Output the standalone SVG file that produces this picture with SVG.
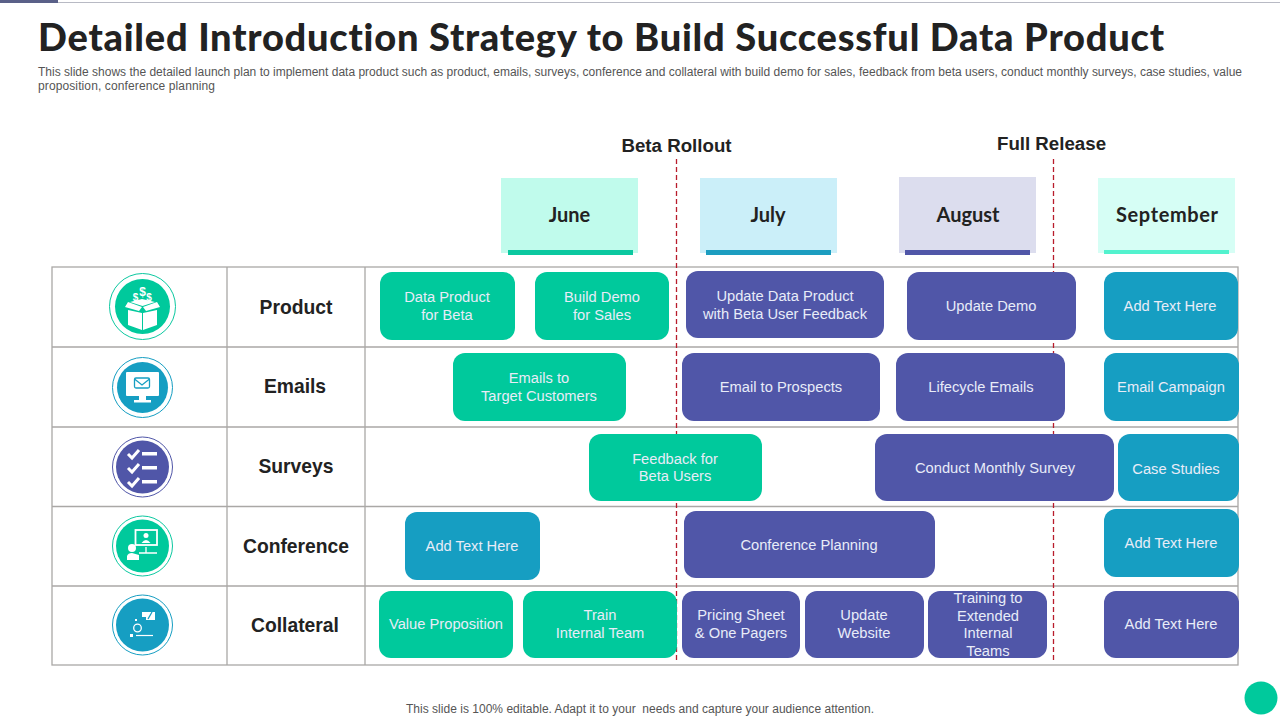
<svg xmlns="http://www.w3.org/2000/svg" width="1280" height="720" viewBox="0 0 1280 720">
<style>
text{font-family:"Liberation Sans",Arial,sans-serif;font-variant-ligatures:none}
.title{font-family:"Lato","Liberation Sans",sans-serif;font-size:38px;font-weight:900;fill:#222}
.sub{font-size:12px;fill:#555}
.mile{font-size:18.700px;font-weight:700;fill:#222;text-anchor:middle}
.month{font-family:"Lato","Liberation Sans",sans-serif;font-size:20px;font-weight:700;fill:#222;text-anchor:middle}
.row{font-size:19.300px;font-weight:700;fill:#222;text-anchor:middle}
.b{font-size:14.700px;fill:#e8ecf8;text-anchor:middle}
.g{fill:#00C99C}.p{fill:#5056A8}.t{fill:#169EC2}
.grid{stroke:#aaa8a6;stroke-width:1.300;fill:none}
.dash{stroke:#B81C2C;stroke-width:1.300;stroke-dasharray:5 3;fill:none}
.w{fill:#fff}.ws{stroke:#fff;fill:none;stroke-width:3}
</style>
<g id="top-rule"><rect x="0" y="2" width="1280" height="1" fill="#b8bac4"/><rect x="0" y="0" width="58" height="3" fill="#5a6088"/></g>
<text class="title" x="38" y="51" textLength="1126" lengthAdjust="spacing">Detailed Introduction Strategy to Build Successful Data Product</text>
<text class="sub" x="38" y="76" textLength="1204" lengthAdjust="spacing">This slide shows the detailed launch plan to implement data product such as product, emails, surveys, conference and collateral with build demo for sales, feedback from beta users, conduct monthly surveys, case studies, value</text>
<text class="sub" x="38" y="90" textLength="177" lengthAdjust="spacing">proposition, conference planning</text>
<g id="table" class="grid">
<rect x="52" y="267" width="1186" height="398"/>
<path d="M52 347H1238M52 427H1238M52 506.500H1238M52 586H1238M227 267V665M365 267V665"/>
</g>
<g id="connectors">
<path class="dash" d="M676.500 159V662"/>
<path class="dash" d="M1053.500 159V662"/>
</g>
<text class="mile" x="676.500" y="152">Beta Rollout</text>
<text class="mile" x="1051.500" y="150">Full Release</text>
<g id="month-june"><rect x="501" y="178" width="137" height="75" fill="#C0FBEC"/><rect x="508" y="250" width="125" height="5" fill="#0BC8A0"/><text class="month" x="569.500" y="222">June</text></g>
<g id="month-july"><rect x="700" y="178" width="137" height="75" fill="#CBEFF9"/><rect x="706" y="250" width="125" height="5" fill="#1C9DC0"/><text class="month" x="768" y="222">July</text></g>
<g id="month-august"><rect x="899" y="177" width="137" height="76" fill="#DCDDEE"/><rect x="905" y="250" width="125" height="5" fill="#5056A8"/><text class="month" x="968" y="222">August</text></g>
<g id="month-september"><rect x="1098" y="178" width="137" height="75" fill="#D6FEF5"/><rect x="1104" y="250" width="125" height="4" fill="#52F2CE"/><text class="month" x="1167" y="222" textLength="102" lengthAdjust="spacing">September</text></g>
<text class="row" x="296" y="314">Product</text>
<text class="row" x="295" y="393">Emails</text>
<text class="row" x="296" y="473">Surveys</text>
<text class="row" x="296" y="553">Conference</text>
<text class="row" x="295" y="632">Collateral</text>
<g id="icon-product">
<circle cx="142.500" cy="306.500" r="33" fill="#fff" stroke="#0BC8A0"/><circle cx="142.500" cy="306.500" r="27.500" class="g"/>
<path class="w" d="M128 310L142 313V330L128 325ZM157 310L143 313V330L157 325ZM128 302L125 307L139 311L142 307ZM157 302L160 307L146 311L143 307ZM130 302L142 299L155 302L142.500 306Z"/>
<text x="142.500" y="295.500" font-size="12" font-weight="700" fill="#fff" text-anchor="middle">$</text><text x="135.500" y="301" font-size="10" font-weight="700" fill="#fff" text-anchor="middle">$</text><text x="149" y="301" font-size="10" font-weight="700" fill="#fff" text-anchor="middle">$</text>
</g>
<g id="icon-emails">
<circle cx="142.500" cy="387.500" r="30" fill="#fff" stroke="#169EC2"/><circle cx="142.500" cy="387.500" r="25.500" class="t"/>
<rect x="126" y="372" width="33" height="24" rx="1" class="w"/><rect x="139" y="396" width="7" height="5" class="w"/><rect x="134" y="400" width="17" height="2.500" class="w"/>
<rect x="134.500" y="378" width="15" height="10" rx="1.500" fill="none" stroke="#169EC2" stroke-width="1.300"/><path d="M134.500 379L142 385L149.500 379" fill="none" stroke="#169EC2" stroke-width="1.300"/>
</g>
<g id="icon-surveys">
<circle cx="142.500" cy="467" r="30" fill="#fff" stroke="#5056A8"/><circle cx="142.500" cy="467" r="26.500" class="p"/>
<path class="ws" d="M128 454L132 458L139 450M128 468L132 472L139 464M128 482L132 486L139 478"/>
<rect x="142" y="452" width="15" height="3.500" class="w"/><rect x="142" y="466" width="15" height="3.500" class="w"/><rect x="142" y="480" width="15" height="3.500" class="w"/>
</g>
<g id="icon-conference">
<circle cx="142.500" cy="546" r="30" fill="#fff" stroke="#0BC8A0"/><circle cx="142.500" cy="546" r="26.500" class="g"/>
<rect x="135.500" y="530" width="21.500" height="15" fill="none" stroke="#fff" stroke-width="1.800"/><circle cx="146" cy="535.500" r="2.500" class="w"/><path class="w" d="M141.500 543Q146 537 150.500 543Z"/>
<path d="M139 553H157M146 547V553" stroke="#fff" stroke-width="1.300" fill="none"/><circle cx="132" cy="548" r="4" class="w"/><path class="w" d="M127 560V556Q128 553 132 553L139 555V560Z"/>
</g>
<g id="icon-collateral">
<circle cx="142.500" cy="625" r="30" fill="#fff" stroke="#169EC2"/><circle cx="142.500" cy="625" r="26.500" class="t"/>
<path class="w" d="M142 612H155V620H146V617H142Z"/><path d="M148 619L152 612" stroke="#169EC2" stroke-width="1.300"/>
<circle cx="137.500" cy="628" r="3.800" fill="none" stroke="#fff" stroke-width="1.300"/><rect x="135" y="619" width="2" height="2" class="w"/><rect x="130" y="634" width="3" height="3" class="w"/><path d="M136 635.500H153" stroke="#fff" stroke-width="1.200"/>
</g>
<g id="boxes">
<g id="n1"><rect class="g" x="380" y="272" width="135" height="68" rx="12"/><text class="b" x="447" y="302">Data Product</text><text class="b" x="447" y="320">for Beta</text></g>
<g id="n2"><rect class="g" x="535" y="272" width="134" height="68" rx="12"/><text class="b" x="602" y="302">Build Demo</text><text class="b" x="602" y="320">for Sales</text></g>
<g id="n3"><rect class="p" x="686" y="271" width="198" height="67" rx="12"/><text class="b" x="785" y="301">Update Data Product</text><text class="b" x="785" y="319">with Beta User Feedback</text></g>
<g id="n4"><rect class="p" x="907" y="272" width="169" height="68" rx="12"/><text class="b" x="991" y="311">Update Demo</text></g>
<g id="n5"><rect class="t" x="1104" y="272" width="134" height="68" rx="12"/><text class="b" x="1170" y="311">Add Text Here</text></g>
<g id="n6"><rect class="g" x="453" y="353" width="173" height="68" rx="12"/><text class="b" x="539" y="383">Emails to</text><text class="b" x="539" y="401">Target Customers</text></g>
<g id="n7"><rect class="p" x="682" y="353" width="198" height="68" rx="12"/><text class="b" x="781" y="392">Email to Prospects</text></g>
<g id="n8"><rect class="p" x="896" y="353" width="169" height="68" rx="12"/><text class="b" x="981" y="392">Lifecycle Emails</text></g>
<g id="n9"><rect class="t" x="1104" y="353" width="135" height="68" rx="12"/><text class="b" x="1171" y="392">Email Campaign</text></g>
<g id="n10"><rect class="g" x="589" y="434" width="173" height="67" rx="12"/><text class="b" x="675" y="464">Feedback for</text><text class="b" x="675" y="481">Beta Users</text></g>
<g id="n11"><rect class="p" x="875" y="434" width="239" height="67" rx="12"/><text class="b" x="995" y="473">Conduct Monthly Survey</text></g>
<g id="n12"><rect class="t" x="1118" y="434" width="121" height="67" rx="12"/><text class="b" x="1176" y="474">Case Studies</text></g>
<g id="n13"><rect class="t" x="405" y="512" width="135" height="68" rx="12"/><text class="b" x="472" y="551">Add Text Here</text></g>
<g id="n14"><rect class="p" x="684" y="511" width="251" height="67" rx="12"/><text class="b" x="809" y="550">Conference Planning</text></g>
<g id="n15"><rect class="t" x="1104" y="509" width="135" height="68" rx="12"/><text class="b" x="1171" y="548">Add Text Here</text></g>
<g id="n16"><rect class="g" x="379" y="591" width="134" height="67" rx="12"/><text class="b" x="446" y="629">Value Proposition</text></g>
<g id="n17"><rect class="g" x="523" y="591" width="154" height="67" rx="12"/><text class="b" x="600" y="620">Train</text><text class="b" x="600" y="638">Internal Team</text></g>
<g id="n18"><rect class="p" x="682" y="591" width="118" height="67" rx="12"/><text class="b" x="741" y="620">Pricing Sheet</text><text class="b" x="741" y="638">&amp; One Pagers</text></g>
<g id="n19"><rect class="p" x="805" y="591" width="119" height="67" rx="12"/><text class="b" x="864" y="620">Update</text><text class="b" x="864" y="638">Website</text></g>
<g id="n20"><rect class="p" x="928" y="591" width="119" height="67" rx="12"/><text class="b" x="988" y="603">Training to</text><text class="b" x="988" y="621">Extended</text><text class="b" x="988" y="638">Internal</text><text class="b" x="988" y="656">Teams</text></g>
<g id="n21"><rect class="p" x="1104" y="591" width="135" height="67" rx="12"/><text class="b" x="1171" y="629">Add Text Here</text></g>
</g>
<text x="640" y="713" font-size="12" fill="#555" text-anchor="middle" textLength="468" lengthAdjust="spacing">This slide is 100% editable. Adapt it to your &#160;needs and capture your audience attention.</text>
<circle id="badge" cx="1261" cy="698" r="16.500" class="g"/>
</svg>
